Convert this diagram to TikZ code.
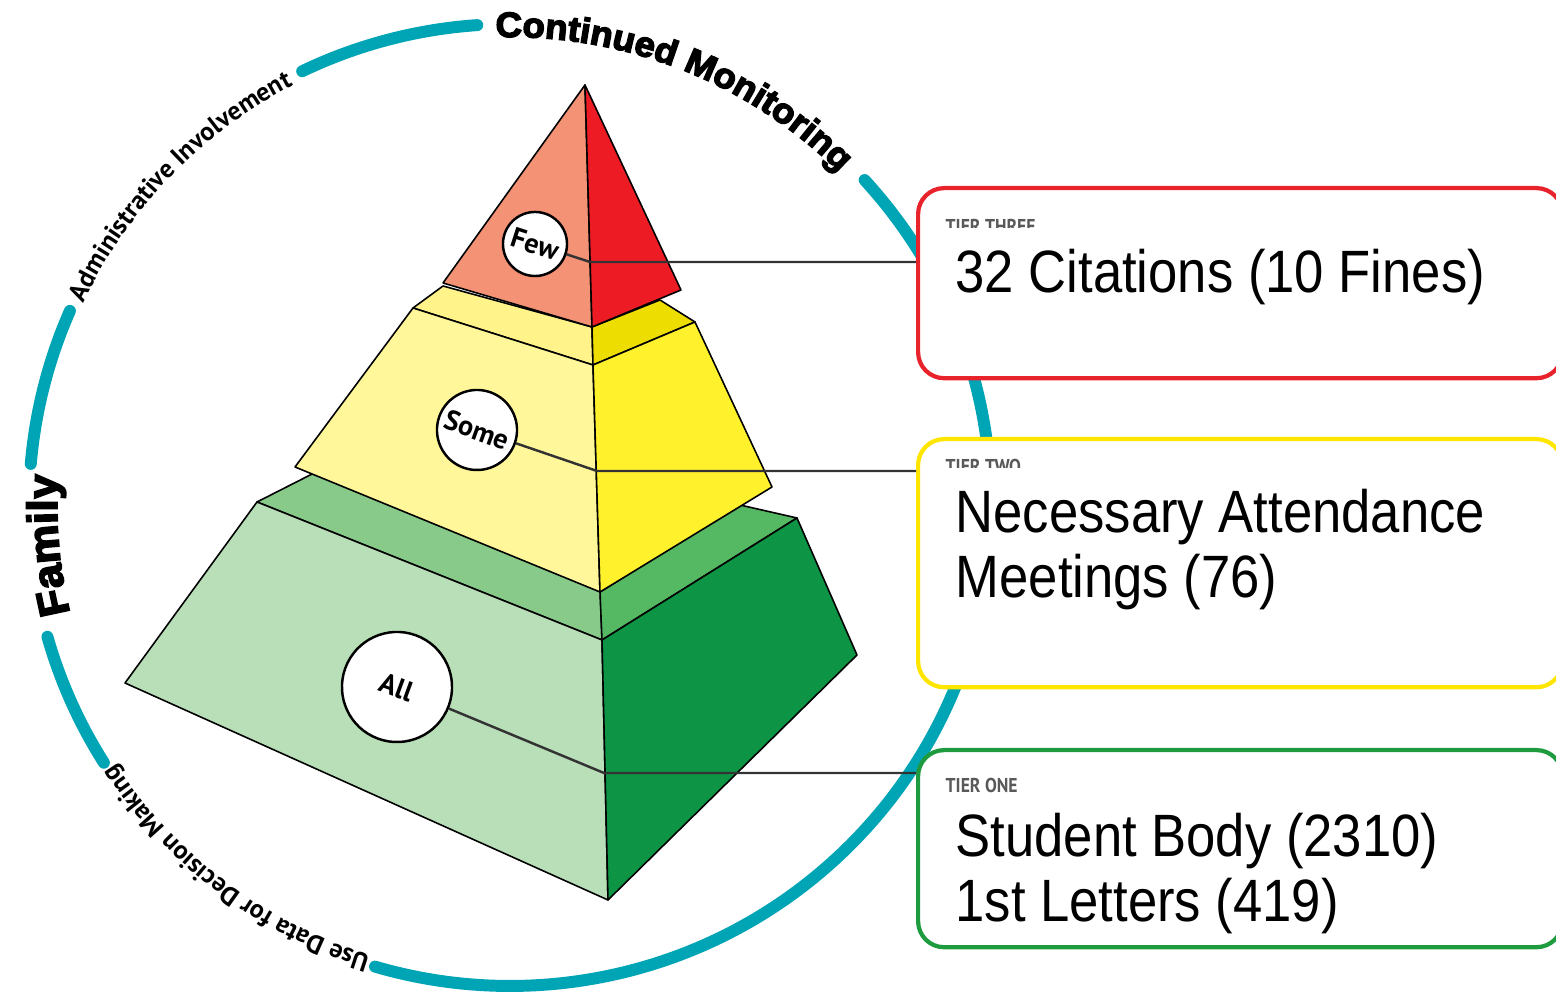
\documentclass[tikz,border=0pt]{standalone}
\usepackage{fontspec}
\usetikzlibrary{positioning}
\usetikzlibrary{decorations.text}
\newfontfamily\heavyfont{Liberation Sans}[BoldFeatures={FakeBold=4,FakeStretch=1.04}]
\newfontfamily\boxfont{Liberation Sans}[FakeStretch=0.88]
\newfontfamily\ptfont{PT Sans}
\newfontfamily\tierfont{PT Sans}[BoldFeatures={FakeStretch=0.88}]
\newcommand\ringheavy{\fontsize{10}{12}\selectfont\heavyfont\bfseries}
\newcommand\ringfamily{\fontsize{12}{14}\selectfont\heavyfont\bfseries}
\newcommand\ringlight{\fontsize{7.4}{9}\selectfont\ptfont\bfseries}
\definecolor{ringteal}{HTML}{00A5B5}
\definecolor{salmon}{HTML}{F39274}
\definecolor{redface}{HTML}{ED1C24}
\definecolor{yellowtop}{HTML}{FFF38A}
\definecolor{yellowdark}{HTML}{EEDD00}
\definecolor{yellowlight}{HTML}{FFF799}
\definecolor{yellowbright}{HTML}{FFF22D}
\definecolor{greenmid}{HTML}{88CA89}
\definecolor{greentop}{HTML}{55B862}
\definecolor{greenlight}{HTML}{B8DFB8}
\definecolor{greendark}{HTML}{0E9445}
\definecolor{boxred}{HTML}{E8232B}
\definecolor{boxyellow}{HTML}{FFE500}
\definecolor{boxgreen}{HTML}{1E9B3F}
\tikzset{
        % Pyramid faces
        face/.style={draw=black, line width=0.45pt, line join=round},
        % Teal ring pieces
        ring_arc/.style={draw=ringteal, line width=3.4pt, line cap=round},
        % Words written on the ring
        ring_text/.style={decorate, decoration={text along path, text align=center, text={#1}}},
        % Few / Some / All
        level_circle/.style={circle, draw=black, line width=0.7pt, fill=white, inner sep=0pt, font=\ptfont\bfseries\fontsize{8}{9}\selectfont},
        % Lines from the circles to the boxes
        leader_line/.style={draw=black!80, line width=0.7pt},
        % Boxes on the right
        tier_box/.style={rectangle, rounded corners=0.26cm, line width=1.2pt, fill=white, anchor=north west, inner sep=0pt},
        tier_label/.style={anchor=base west, inner sep=0pt, text=black!65, font=\tierfont\bfseries\fontsize{5.7}{7}\selectfont},
        tier_text/.style={anchor=base west, inner sep=0pt, align=left, font=\boxfont\fontsize{17}{18.5}\selectfont}
}
\begin{document}
\begin{tikzpicture}[x=0.01cm, y=0.01cm]
    \useasboundingbox (0,0) rectangle (1556,-995);
    \coordinate (ctr) at (510,-505);

    % ring
    \draw[ring_arc] (ctr) ++(115.6:481) arc[start angle=115.6, end angle=93.9, radius=481];
    \draw[ring_arc] (ctr) ++(156.2:481) arc[start angle=156.2, end angle=175.1, radius=481];
    \draw[ring_arc] (ctr) ++(195.9:481) arc[start angle=195.9, end angle=212.4, radius=481];
    \draw[ring_arc] (ctr) ++(42.5:481) arc[start angle=42.5, end angle=-106.3, radius=481];

    % bottom tier
    \filldraw[face, fill=greenmid] (257,-502) -- (320,-470) -- (600,-585) -- (602,-640) -- cycle;
    \filldraw[face, fill=greentop] (600,-592) -- (740,-505) -- (797,-518) -- (602,-640) -- cycle;
    \filldraw[face, fill=greenlight] (257,-502) -- (602,-640) -- (608,-900) -- (125,-683) -- cycle;
    \filldraw[face, fill=greendark] (602,-640) -- (797,-518) -- (857,-655) -- (608,-900) -- cycle;

    % middle tier
    \filldraw[face, fill=yellowtop] (413,-308) -- (443,-286) -- (592,-327) -- (593,-365) -- cycle;
    \filldraw[face, fill=yellowdark] (592,-327) -- (660,-300) -- (695,-322) -- (593,-365) -- cycle;
    \filldraw[face, fill=yellowlight] (413,-308) -- (593,-365) -- (600,-592) -- (295,-467) -- cycle;
    \filldraw[face, fill=yellowbright] (593,-365) -- (695,-322) -- (772,-487) -- (600,-592) -- cycle;

    % top tier
    \filldraw[face, fill=salmon] (585,-85) -- (592,-327) -- (443,-283) -- cycle;
    \filldraw[face, fill=redface] (585,-85) -- (681,-290) -- (592,-327) -- cycle;

    % boxes
    \node[tier_box, draw=boxred, minimum width=6.44cm, minimum height=1.90cm] (box_three) at (916,-186) {};
    \node[tier_box, draw=boxyellow, minimum width=6.44cm, minimum height=2.48cm] (box_two) at (916,-437) {};
    \node[tier_box, draw=boxgreen, minimum width=6.44cm, minimum height=1.97cm] (box_one) at (916,-748) {};

    \begin{scope}
        \clip (940,-214) rectangle (1080,-228);
        \node[tier_label] (label_three) at (945,-234) {TIER THREE};
    \end{scope}
    \begin{scope}
        \clip (940,-454) rectangle (1080,-468);
        \node[tier_label] (label_two) at (945,-474) {TIER TWO};
    \end{scope}
    \node[tier_label] (label_one) at (945,-793) {TIER ONE};

    \node[tier_text] (text_three) at (955,-293) {32 Citations (10 Fines)};
    \node[tier_text] (text_two) at (955,-598) {Necessary Attendance\\Meetings (76)};
    \node[tier_text] (text_one) at (955,-922) {Student Body (2310)\\1st Letters (419)};

    % circles and leader lines
    \node[level_circle, minimum size=0.64cm, rotate=-18] (few) at (535,-244) {Few};
    \node[level_circle, minimum size=0.80cm, rotate=-20] (some) at (477,-430) {Some};
    \node[level_circle, minimum size=1.10cm, rotate=-20] (all) at (397,-687) {All};
    \coordinate (few_join) at (590,-262);
    \coordinate (some_join) at (597,-471);
    \coordinate (all_join) at (604,-773);
    \draw[leader_line] (few) -- (few_join) -- (few_join -| box_three.west);
    \draw[leader_line] (some) -- (some_join) -- (some_join -| box_two.west);
    \draw[leader_line] (all) -- (all_join) -- (all_join -| box_one.west);

    % words on the ring
    \path[ring_text={|\ringheavy|Continued Monitoring}] (ctr) ++(93:468) arc[start angle=93, end angle=44, radius=468];
    \path[ring_text={|\ringfamily|Family}] (ctr) ++(200:453) arc[start angle=200, end angle=170, radius=453];
    \path[ring_text={|\ringlight|Administrative Involvement}] (ctr) ++(156:472) arc[start angle=156, end angle=116, radius=472];
    \path[ring_text={|\ringlight|Use Data for Decision Making}] (ctr) ++(254:472) arc[start angle=254, end angle=212, radius=472];
\end{tikzpicture}
\end{document}
